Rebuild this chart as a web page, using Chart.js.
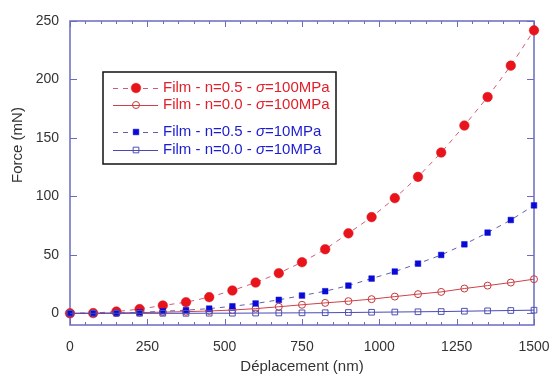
<!DOCTYPE html>
<html>
<head>
<meta charset="utf-8">
<script src="https://cdn.jsdelivr.net/npm/chart.js@4"></script>
<style>
  html, body { margin: 0; padding: 0; background: #fff; }
  #wrap { width: 550px; height: 374px; }
</style>
</head>
<body>
<div id="wrap"><canvas id="forceChart" width="550" height="374"></canvas></div>
<script>
// displacement (nm)
const displacement = [0, 75, 150, 225, 300, 375, 450, 525, 600, 675, 750,
  825, 900, 975, 1050, 1125, 1200, 1275, 1350, 1425, 1500];

// force (mN)
const forceN05S100 = [0, 0.2, 1.5, 3.6, 6.7, 9.5, 13.8, 19.5, 26.3, 34.3, 43.7,
  54.8, 68.4, 82.3, 98.5, 116.7, 137.5, 160.6, 185, 211.8, 242];
const forceN00S100 = [0, 0.1, 0.3, 0.6, 1.0, 1.4, 2.0, 2.8, 4.0, 5.6, 7.3,
  8.9, 10.4, 12.1, 14.3, 16.4, 18.3, 21.2, 23.7, 26.3, 29.2];
const forceN05S10 = [0, 0, 0.3, 0.8, 1.7, 2.7, 4.0, 6.0, 8.4, 11.5, 15.2,
  18.9, 23.7, 29.7, 35.7, 42.5, 49.9, 59, 69, 79.8, 92.3];
const forceN00S10 = [0, 0, 0, 0, 0, 0, 0.1, 0.1, 0.2, 0.3, 0.4,
  0.5, 0.7, 0.9, 1.1, 1.3, 1.5, 1.8, 2.1, 2.4, 2.7];

const xTicks = [0, 250, 500, 750, 1000, 1250, 1500];
const yTicks = [0, 50, 100, 150, 200, 250];
const legendLabels = [
  ['Film - n=0.5 - ', '=100MPa'],
  ['Film - n=0.0 - ', '=100MPa'],
  ['Film - n=0.5 - ', '=10MPa'],
  ['Film - n=0.0 - ', '=10MPa']
];

const axisColor = '#6b6bc0';
const FONT = '"Liberation Sans", Arial, sans-serif';

function toPoints(ys) {
  return displacement.map((x, i) => ({ x: x, y: ys[i] }));
}

const datasets = [
  {
    data: toPoints(forceN05S100),
    borderColor: '#d05a78', borderWidth: 1, borderDash: [5, 5],
    pointStyle: 'circle', pointRadius: 4.8, pointBackgroundColor: '#e8141c',
    pointBorderColor: '#e8141c', pointBorderWidth: 0.5, order: 4,
    textColor: '#e0202a'
  },
  {
    data: toPoints(forceN00S100),
    borderColor: '#d0404a', borderWidth: 1,
    pointStyle: 'circle', pointRadius: 3.5, pointBackgroundColor: 'rgba(255,255,255,0)',
    pointBorderColor: '#c83838', pointBorderWidth: 1, order: 3,
    textColor: '#e0202a'
  },
  {
    data: toPoints(forceN05S10),
    borderColor: '#6060a8', borderWidth: 1, borderDash: [5, 5],
    pointStyle: 'rect', pointRadius: 4, pointBackgroundColor: '#0a0ad8',
    pointBorderColor: '#0a0ad8', pointBorderWidth: 0.5, order: 2,
    textColor: '#1c1cd0'
  },
  {
    data: toPoints(forceN00S10),
    borderColor: '#4848b8', borderWidth: 1,
    pointStyle: 'rect', pointRadius: 4, pointBackgroundColor: 'rgba(255,255,255,0)',
    pointBorderColor: '#5050b0', pointBorderWidth: 1, order: 1,
    textColor: '#1c1cd0'
  }
];
datasets.forEach(d => { d.tension = 0; d.clip = false; d.fill = false; });

function drawMarker(ctx, ds, x, y) {
  ctx.save();
  ctx.setLineDash([]);
  ctx.lineWidth = ds.pointBorderWidth;
  ctx.strokeStyle = ds.pointBorderColor;
  ctx.fillStyle = ds.pointBackgroundColor;
  const r = ds.pointRadius;
  ctx.beginPath();
  if (ds.pointStyle === 'circle') {
    ctx.arc(x, y, r, 0, Math.PI * 2);
  } else {
    const s = r * Math.SQRT1_2;
    ctx.rect(x - s, y - s, 2 * s, 2 * s);
  }
  ctx.fill();
  ctx.stroke();
  ctx.restore();
}

const framePlugin = {
  id: 'frame',
  beforeDatasetsDraw(chart) {
    const { ctx, chartArea: a, scales } = chart;
    ctx.save();
    ctx.strokeStyle = axisColor;
    ctx.lineWidth = 1.5;
    ctx.strokeRect(a.left, a.top, a.right - a.left, a.bottom - a.top);
    ctx.lineWidth = 1;
    ctx.beginPath();
    for (let v = 0; v <= 1500; v += 50) {
      const px = Math.round(scales.x.getPixelForValue(v)) + 0.5;
      const len = xTicks.includes(v) ? 6 : 3;
      ctx.moveTo(px, a.bottom); ctx.lineTo(px, a.bottom - len);
      ctx.moveTo(px, a.top); ctx.lineTo(px, a.top + len);
    }
    yTicks.forEach(v => {
      const py = Math.round(scales.y.getPixelForValue(v)) + 0.5;
      ctx.moveTo(a.left, py); ctx.lineTo(a.left + 7, py);
      ctx.moveTo(a.right, py); ctx.lineTo(a.right - 7, py);
    });
    ctx.stroke();

    // axis titles
    ctx.fillStyle = '#333';
    ctx.font = '15px ' + FONT;
    ctx.textAlign = 'center';
    ctx.textBaseline = 'middle';
    ctx.fillText('Déplacement (nm)', (a.left + a.right) / 2, 367);
    ctx.translate(18, 145);
    ctx.rotate(-Math.PI / 2);
    ctx.fillText('Force (mN)', 0, 0);
    ctx.restore();
  },
  afterDraw(chart) {
    const ctx = chart.ctx;
    ctx.save();
    ctx.fillStyle = '#fff';
    ctx.fillRect(103, 72, 233, 92);
    ctx.strokeStyle = '#111';
    ctx.lineWidth = 1.5;
    ctx.strokeRect(103, 72, 233, 92);
    const rows = [88, 105, 132, 150];
    datasets.forEach((ds, i) => {
      const y = rows[i];
      ctx.strokeStyle = ds.borderColor;
      ctx.lineWidth = 1;
      ctx.setLineDash(ds.borderDash || []);
      ctx.beginPath();
      ctx.moveTo(113, y + 0.5); ctx.lineTo(158, y + 0.5);
      ctx.stroke();
      drawMarker(ctx, ds, 136, y);
      ctx.fillStyle = ds.textColor;
      ctx.textBaseline = 'middle';
      ctx.textAlign = 'left';
      let x = 163;
      ctx.font = '15px ' + FONT;
      ctx.fillText(legendLabels[i][0], x, y);
      x += ctx.measureText(legendLabels[i][0]).width;
      ctx.font = 'italic 15px ' + FONT;
      ctx.fillText('σ', x, y);
      x += ctx.measureText('σ').width;
      ctx.font = '15px ' + FONT;
      ctx.fillText(legendLabels[i][1], x, y);
    });
    ctx.restore();
  }
};

new Chart(document.getElementById('forceChart'), {
  type: 'line',
  data: { datasets: datasets },
  options: {
    responsive: false,
    animation: false,
    layout: { padding: { top: 21, right: 16, left: 0, bottom: 0 } },
    plugins: { legend: { display: false }, tooltip: { enabled: false } },
    scales: {
      x: {
        type: 'linear', min: 0, max: 1500,
        afterBuildTicks: s => { s.ticks = xTicks.map(v => ({ value: v })); },
        afterFit: s => { s.height = 49; s.paddingRight = 0; s.paddingLeft = 0; },
        grid: { display: false, drawTicks: false },
        border: { display: false },
        ticks: {
          padding: 14, color: '#333', font: { size: 14, family: FONT }, maxRotation: 0,
          callback: v => String(v)
        }
      },
      y: {
        type: 'linear', min: -10, max: 250,
        afterBuildTicks: s => { s.ticks = yTicks.map(v => ({ value: v })); },
        afterFit: s => { s.width = 70; s.paddingTop = 0; s.paddingBottom = 0; },
        grid: { display: false, drawTicks: false },
        border: { display: false },
        ticks: { padding: 11, color: '#333', font: { size: 14, family: FONT }, callback: v => String(v) }
      }
    }
  },
  plugins: [framePlugin]
});
</script>
</body>
</html>
